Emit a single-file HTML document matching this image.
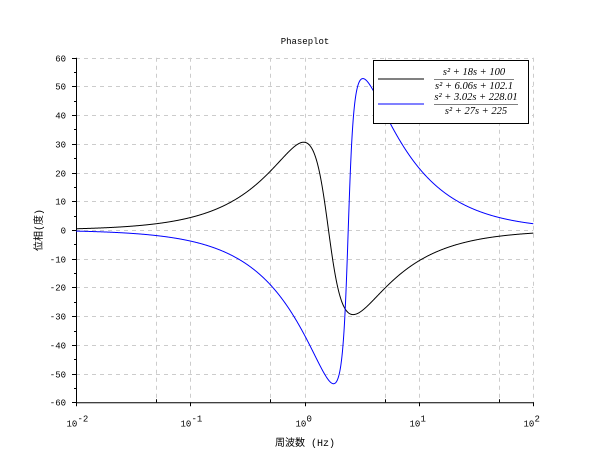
<!DOCTYPE html>
<html><head><meta charset="utf-8"><style>
body{margin:0;background:#fff;}
svg{display:block;}
text{font-family:"Liberation Mono","DejaVu Sans Mono",monospace;font-size:9px;fill:#000;}
.s{font-family:"Liberation Serif",serif;font-style:italic;font-size:10.5px;}
</style></head><body>
<svg id="c" width="610" height="460" viewBox="0 0 610 460" xmlns="http://www.w3.org/2000/svg">
<rect width="610" height="460" fill="#fff"/>
<g id="grid" stroke="#ccc" stroke-width="1" stroke-dasharray="4,4"></g>
<g id="axes" stroke="#000" stroke-width="1"></g>
<g id="labels"></g>
<path id="p1" fill="none" stroke="#000" stroke-width="1"/>
<path id="p2" fill="none" stroke="#0000ff" stroke-width="1"/>
<text x="305" y="44" text-anchor="middle">Phaseplot</text>
<text x="305" y="446" text-anchor="middle" style="font-family:'Liberation Mono','Noto Sans CJK JP',monospace;font-size:10px">周波数 (Hz)</text>
<text transform="translate(42,230) rotate(-90)" text-anchor="middle" style="font-family:'Liberation Mono','Noto Sans CJK JP',monospace;font-size:10px">位相(度)</text>
<rect x="373.5" y="60.5" width="155" height="63" fill="#fff" stroke="#000"/>
<line x1="378" y1="79" x2="424" y2="79" stroke="#000"/>
<line x1="378" y1="104" x2="424" y2="104" stroke="#0000ff"/>
<text class="s" x="474" y="75" text-anchor="middle">s² + 18s + 100</text>
<line x1="434" y1="79.5" x2="514" y2="79.5" stroke="#000" stroke-width="0.6"/>
<text class="s" x="474" y="89" text-anchor="middle">s² + 6.06s + 102.1</text>
<text class="s" x="476" y="100" text-anchor="middle">s² + 3.02s + 228.01</text>
<line x1="434" y1="104.5" x2="518" y2="104.5" stroke="#000" stroke-width="0.6"/>
<text class="s" x="476" y="114" text-anchor="middle">s² + 27s + 225</text>
</svg>
<script>
var L=76,R=533.3,T=57.7,B=402.3,D=(R-L)/4;
function X(f){return L+(Math.log10(f)+2)*D;}
function Y(v){return 230-v*(B-T)/120;}
var ns="http://www.w3.org/2000/svg";
function el(p,t,a,txt){var e=document.createElementNS(ns,t);for(var k in a)e.setAttribute(k,a[k]);if(txt!==undefined)e.textContent=txt;document.getElementById(p).appendChild(e);return e;}
for(var v=-50;v<=60;v+=10){var y=Math.round(Y(v))+0.5;el("grid","line",{x1:L,y1:y,x2:R,y2:y});}
for(var d=-2;d<2;d++){[1,5].forEach(function(m){var f=m*Math.pow(10,d);if(f<=0.01)return;var x=Math.round(X(f))+0.5;el("grid","line",{x1:x,y1:T,x2:x,y2:B});});}
el("grid","line",{x1:Math.round(R)+0.5,y1:T,x2:Math.round(R)+0.5,y2:B});
el("axes","line",{x1:L+0.5,y1:T,x2:L+0.5,y2:B+0.5});
el("axes","line",{x1:L,y1:B+0.5,x2:R+0.5,y2:B+0.5});
for(var v=-60;v<=60;v+=5){var y=Math.round(Y(v))+0.5;el("axes","line",{x1:v%10==0?72:74,y1:y,x2:L,y2:y});
 if(v%10==0)el("labels","text",{x:66,y:y+3,"text-anchor":"end"},String(v));}
for(var d=-2;d<=2;d++){var x=Math.round(X(Math.pow(10,d)))+0.5;el("axes","line",{x1:x,y1:B,x2:x,y2:B+4});
 el("labels","text",{x:x-10,y:B+24},"10");el("labels","text",{x:x+1,y:B+19},String(d));
 if(d<2){var xm=Math.round(X(5*Math.pow(10,d)))+0.5;el("axes","line",{x1:xm,y1:B-3,x2:xm,y2:B});}}
function ph(f,a1,b1,a0,b0){var w=2*Math.PI*f;return (Math.atan2(a1*w,b1-w*w)-Math.atan2(a0*w,b0-w*w))*180/Math.PI;}
function path(a1,b1,a0,b0){var s="";for(var i=0;i<=2000;i++){var lf=-2+4*i/2000,f=Math.pow(10,lf);s+=(i?"L":"M")+X(f).toFixed(2)+","+Y(ph(f,a1,b1,a0,b0)).toFixed(2);}return s;}
document.getElementById("p1").setAttribute("d",path(18,100,6.06,102.1));
document.getElementById("p2").setAttribute("d",path(3.02,228.01,27,225));
</script>
</body></html>
